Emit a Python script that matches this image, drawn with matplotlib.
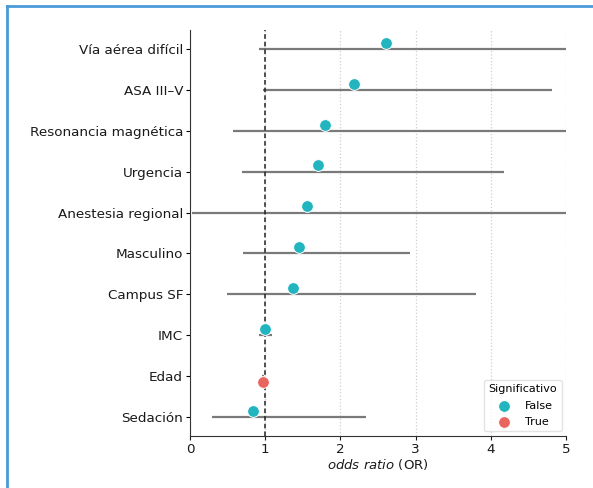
import matplotlib.pyplot as plt
from matplotlib.lines import Line2D

# Odds ratios with 95% CI
variables = ["Vía aérea difícil", "ASA III–V", "Resonancia magnética", "Urgencia",
             "Anestesia regional", "Masculino", "Campus SF", "IMC", "Edad", "Sedación"]
odds_ratio = [2.61, 2.18, 1.80, 1.70, 1.55, 1.45, 1.37, 1.00, 0.975, 0.84]
ci_low = [0.92, 0.975, 0.57, 0.69, 0.02, 0.71, 0.49, 0.92, 0.96, 0.29]
ci_high = [7.4, 4.82, 5.9, 4.17, 9.6, 2.93, 3.80, 1.09, 0.99, 2.34]
significant = [False, False, False, False, False, False, False, False, True, False]

colors = {False: "#22b5bf", True: "#e8665f"}
dodge = {False: -0.15, True: 0.15}

fig = plt.figure(figsize=(5.93, 4.88), dpi=100)
ax = fig.add_axes([0.3204, 0.1074, 0.634, 0.8311])

ypos = list(range(len(variables)))

ax.grid(axis="x", linestyle=":", color="#cfcfcf", linewidth=0.9)
ax.set_axisbelow(True)

ax.hlines(ypos, ci_low, ci_high, color="#7a7a7a", linewidth=1.6, zorder=2)
ax.axvline(1, color="#222222", linestyle=(0, (3, 2)), linewidth=1.1, zorder=3)

for flag in [False, True]:
    xs = [o for o, s in zip(odds_ratio, significant) if s == flag]
    ys = [y + dodge[flag] for y, s in zip(ypos, significant) if s == flag]
    ax.scatter(xs, ys, s=72, color=colors[flag], edgecolor="white",
               linewidth=0.7, zorder=4, label=str(flag))

ax.set_yticks(ypos)
ax.set_yticklabels(variables, fontsize=9.7, color="#1a1a1a")
ax.set_ylim(9.45, -0.46)
ax.set_xlim(0, 5)
ax.set_xticks(range(6))
ax.tick_params(axis="y", length=3, pad=2)
ax.tick_params(axis="x", labelsize=9.7, colors="#1a1a1a", length=3, pad=2)
ax.set_xlabel(r"$\it{odds\ ratio}$ (OR)", fontsize=9.5, color="#1a1a1a", labelpad=1)

for side in ["top", "right"]:
    ax.spines[side].set_visible(False)
for side in ["left", "bottom"]:
    ax.spines[side].set_color("#333333")

leg = ax.legend(title="Significativo", loc="lower right", fontsize=8,
                title_fontsize=8, frameon=True, borderaxespad=0.4,
                handletextpad=0.9, markerscale=1.0, labelspacing=0.55)
leg.get_frame().set_edgecolor("#dddddd")

# blue frame around the picture
fig.add_artist(Line2D([7 / 593, 1.0], [1 - 6 / 488, 1 - 6 / 488],
                      color="#4a9ad9", linewidth=2.0, transform=fig.transFigure))
fig.add_artist(Line2D([7 / 593, 7 / 593], [0.0, 1 - 6 / 488],
                      color="#4a9ad9", linewidth=2.0, transform=fig.transFigure))

fig.savefig("out.png", dpi=100)
